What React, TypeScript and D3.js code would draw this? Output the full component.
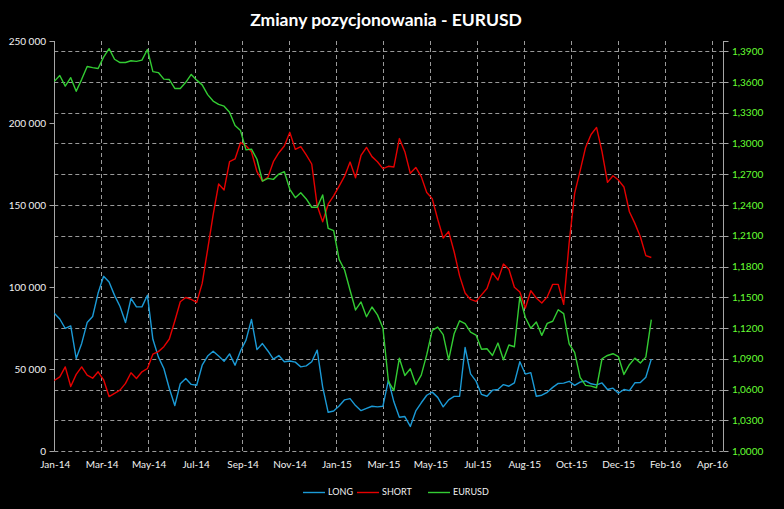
import { useRef, useEffect } from "react";
import * as d3 from "d3";

// weekly COT readings, first report 7 Jan 2014
const FIRST_DATE = new Date(Date.UTC(2014, 0, 7));

const LONG = [
  84000, 80500, 74700, 76300, 56400, 65600, 78300, 82000, 96300, 106500,
  103000, 94900, 88100, 78300, 93000, 87900, 87900, 95000, 68100, 57400,
  50300, 38100, 27700, 41000, 44200, 40600, 40100, 52300, 57900, 60800,
  57900, 54700, 59200, 52300, 61000, 67600, 80200, 61800, 65500, 61000,
  56000, 58200, 54400, 54900, 54200, 51300, 51900, 54400, 61500, 39000,
  23600, 24400, 27400, 31200, 31900, 27700, 24600, 26000, 27300, 26900,
  27300, 43200, 30000, 20600, 21000, 15000, 24400, 29400, 34000, 35900,
  32700, 26900, 31200, 33300, 33400, 63100, 47000, 42600, 34500, 33400,
  37100, 37500, 40500, 39500, 41500, 54400, 46900, 47800, 33400, 34000,
  35800, 38800, 41200, 41400, 42500, 40000, 42000, 42800, 41000, 40300,
  41500, 37500, 38300, 35200, 37500, 36800, 41600, 41800, 45000, 56000,
];

const SHORT = [
  43000, 45200, 51300, 39300, 46700, 51300, 46200, 44400, 48300, 43400,
  33200, 35100, 37100, 41200, 47700, 44200, 48300, 50300, 59000, 60600,
  63600, 68300, 79300, 91000, 93600, 92500, 90600, 102200, 123000, 144000,
  162800, 159200, 176500, 178100, 188100, 186100, 182500, 170300, 164600, 166900,
  176400, 181900, 186000, 194300, 183900, 185600, 180500, 175000, 149500, 139800,
  150500, 155600, 161500, 167600, 176200, 166600, 180200, 185100, 179500, 176400,
  172200, 173600, 173200, 190500, 182500, 169300, 172900, 167300, 157600, 153900,
  141300, 129900, 133800, 121500, 106800, 96300, 92400, 91200, 95200, 99100,
  108700, 104200, 114000, 110800, 99800, 97000, 87100, 97700, 93300, 90200,
  94000, 101600, 101600, 89400, 127000, 157100, 170800, 185100, 193000, 197300,
  182500, 163800, 167800, 165200, 161000, 145900, 138800, 130600, 119100, 118000,
];

const EURUSD = [
  1.3606, 1.3663, 1.356, 1.3642, 1.3509, 1.3626, 1.3751, 1.374, 1.3732, 1.3843,
  1.3925, 1.3822, 1.379, 1.379, 1.3807, 1.3801, 1.3813, 1.3917, 1.3701, 1.3692,
  1.3628, 1.3624, 1.3537, 1.3537, 1.3597, 1.3674, 1.3618, 1.3572, 1.3477, 1.3414,
  1.3382, 1.3364, 1.3305, 1.3175, 1.3126, 1.2938, 1.2945, 1.2846, 1.2634, 1.266,
  1.265, 1.2702, 1.2725, 1.2553, 1.2471, 1.252, 1.2459, 1.2378, 1.2378, 1.2498,
  1.2172, 1.215, 1.187, 1.1766, 1.1568, 1.1376, 1.1454, 1.131, 1.1405, 1.1328,
  1.12, 1.068, 1.059, 1.0905, 1.0737, 1.0803, 1.0648, 1.074, 1.094, 1.1177,
  1.1209, 1.1136, 1.089, 1.1144, 1.127, 1.1242, 1.116, 1.1131, 1.0993, 1.0998,
  1.0932, 1.1053, 1.089, 1.1034, 1.1017, 1.1505, 1.1302, 1.1197, 1.1258, 1.1128,
  1.1245, 1.1266, 1.1378, 1.134, 1.1046, 1.0962, 1.0718, 1.064, 1.0633, 1.0617,
  1.09, 1.0932, 1.0949, 1.092, 1.0747, 1.0842, 1.0906, 1.0858, 1.0916, 1.1281,
];

const LEFT_TICKS = [0, 50000, 100000, 150000, 200000, 250000];
const RIGHT_TICKS = [1.0, 1.03, 1.06, 1.09, 1.12, 1.15, 1.18, 1.21, 1.24, 1.27, 1.3, 1.33, 1.36, 1.39];

const SERIES = [
  { name: "LONG", color: "#1b9ad6" },
  { name: "SHORT", color: "#e60000" },
  { name: "EURUSD", color: "#33cc33" },
];

const FONT = "Lato, 'Open Sans', sans-serif";

export default function App() {
  const svgRef = useRef<SVGSVGElement>(null);

  useEffect(() => {
    if (!svgRef.current) return;
    const width = 784;
    const height = 509;
    const m = { left: 54.3, right: 723.3, top: 41, bottom: 451 };

    const svg = d3.select(svgRef.current);
    svg.selectAll("*").remove();
    svg.attr("width", width).attr("height", height);

    svg.append("rect").attr("width", width).attr("height", height).attr("fill", "#000");

    const dates = LONG.map((_, i) => d3.utcDay.offset(FIRST_DATE, 7 * i));

    // axis runs from the first report, labels every 60 days
    const x = d3
      .scaleUtc()
      .domain([FIRST_DATE, d3.utcDay.offset(FIRST_DATE, 855)])
      .range([m.left, m.right]);
    const xTicks = d3.range(15).map((k) => d3.utcDay.offset(FIRST_DATE, 60 * k));

    const yLeft = d3.scaleLinear().domain([0, 250000]).range([m.bottom, m.top]);
    const yRight = d3.scaleLinear().domain([1.0, 1.4]).range([m.bottom, m.top]);

    const grid = svg.append("g").attr("stroke", "#9a9a9a").attr("stroke-dasharray", "4,3").attr("stroke-width", 1);

    grid.selectAll("line.h")
      .data(RIGHT_TICKS)
      .join("line")
      .attr("class", "h")
      .attr("x1", m.left)
      .attr("x2", m.right)
      .attr("y1", (d) => Math.round(yRight(d)) + 0.5)
      .attr("y2", (d) => Math.round(yRight(d)) + 0.5);

    grid.selectAll("line.v")
      .data(xTicks.slice(1))
      .join("line")
      .attr("class", "v")
      .attr("x1", (d) => Math.round(x(d)) + 0.5)
      .attr("x2", (d) => Math.round(x(d)) + 0.5)
      .attr("y1", m.top)
      .attr("y2", m.bottom);

    // axes
    const axisColor = "#a6a6a6";
    const leftX = Math.round(m.left) + 0.5;
    const rightX = Math.round(m.right) + 0.5;
    svg.append("line").attr("x1", leftX).attr("x2", leftX).attr("y1", m.top).attr("y2", m.bottom)
      .attr("stroke", axisColor);
    svg.append("line").attr("x1", rightX).attr("x2", rightX).attr("y1", m.top).attr("y2", m.bottom)
      .attr("stroke", axisColor);

    svg.selectAll(".ltick")
      .data(LEFT_TICKS)
      .join("line")
      .attr("class", "ltick")
      .attr("x1", leftX - 5)
      .attr("x2", leftX)
      .attr("y1", (d) => Math.round(yLeft(d)) + 0.5)
      .attr("y2", (d) => Math.round(yLeft(d)) + 0.5)
      .attr("stroke", axisColor);

    svg.selectAll(".rtick")
      .data(RIGHT_TICKS.concat([1.4]))
      .join("line")
      .attr("class", "rtick")
      .attr("x1", rightX)
      .attr("x2", rightX + 5)
      .attr("y1", (d) => Math.round(yRight(d)) + 0.5)
      .attr("y2", (d) => Math.round(yRight(d)) + 0.5)
      .attr("stroke", axisColor);

    const fmtLeft = (v: number) => d3.format(",")(v).replace(/,/g, " ");
    svg.selectAll(".llabel")
      .data(LEFT_TICKS)
      .join("text")
      .attr("class", "llabel")
      .attr("x", 46)
      .attr("y", (d) => yLeft(d))
      .attr("dy", "0.35em")
      .attr("text-anchor", "end")
      .style("font-family", FONT)
      .style("font-size", "10px")
      .style("fill", "#f2f2f2")
      .text(fmtLeft);

    svg.selectAll(".rlabel")
      .data(RIGHT_TICKS)
      .join("text")
      .attr("class", "rlabel")
      .attr("x", 732)
      .attr("y", (d) => yRight(d))
      .attr("dy", "0.35em")
      .attr("text-anchor", "start")
      .style("font-family", FONT)
      .style("font-size", "10px")
      .style("fill", "#66ff33")
      .text((d) => d.toFixed(4).replace(".", ","));

    const fmtDate = d3.utcFormat("%b-%y");
    svg.selectAll(".xlabel")
      .data(xTicks)
      .join("text")
      .attr("class", "xlabel")
      .attr("x", (d) => x(d) + 1)
      .attr("y", 468)
      .attr("text-anchor", "middle")
      .style("font-family", FONT)
      .style("font-size", "10px")
      .style("fill", "#f2f2f2")
      .text(fmtDate);

    // series
    const lineLeft = d3.line<number>().x((_, i) => x(dates[i])).y((d) => yLeft(d));
    const lineRight = d3.line<number>().x((_, i) => x(dates[i])).y((d) => yRight(d));

    svg.append("path").datum(LONG).attr("d", lineLeft).attr("fill", "none")
      .attr("stroke", SERIES[0].color).attr("stroke-width", 1.4).attr("stroke-linejoin", "round");
    svg.append("path").datum(SHORT).attr("d", lineLeft).attr("fill", "none")
      .attr("stroke", SERIES[1].color).attr("stroke-width", 1.4).attr("stroke-linejoin", "round");
    svg.append("path").datum(EURUSD).attr("d", lineRight).attr("fill", "none")
      .attr("stroke", SERIES[2].color).attr("stroke-width", 1.4).attr("stroke-linejoin", "round");

    // title
    svg.append("text")
      .attr("x", 386)
      .attr("y", 26)
      .attr("text-anchor", "middle")
      .style("font-family", FONT)
      .style("font-size", "17.5px")
      .style("font-weight", "700")
      .style("fill", "#fff")
      .text("Zmiany pozycjonowania - EURUSD");

    // legend
    const legendX = [303, 357, 428];
    const lg = svg.append("g");
    SERIES.forEach((s, i) => {
      lg.append("line")
        .attr("x1", legendX[i])
        .attr("x2", legendX[i] + 22)
        .attr("y1", 492.5)
        .attr("y2", 492.5)
        .attr("stroke", s.color)
        .attr("stroke-width", 1.4);
      lg.append("text")
        .attr("x", legendX[i] + 25)
        .attr("y", 492)
        .attr("dy", "0.35em")
        .style("font-family", FONT)
        .style("font-size", "9px")
        .style("fill", "#f2f2f2")
        .text(s.name);
    });
  }, []);

  return (
    <>
      <style>{`body{margin:0;background:#000}`}</style>
      <svg ref={svgRef} style={{ display: "block" }} />
    </>
  );
}
